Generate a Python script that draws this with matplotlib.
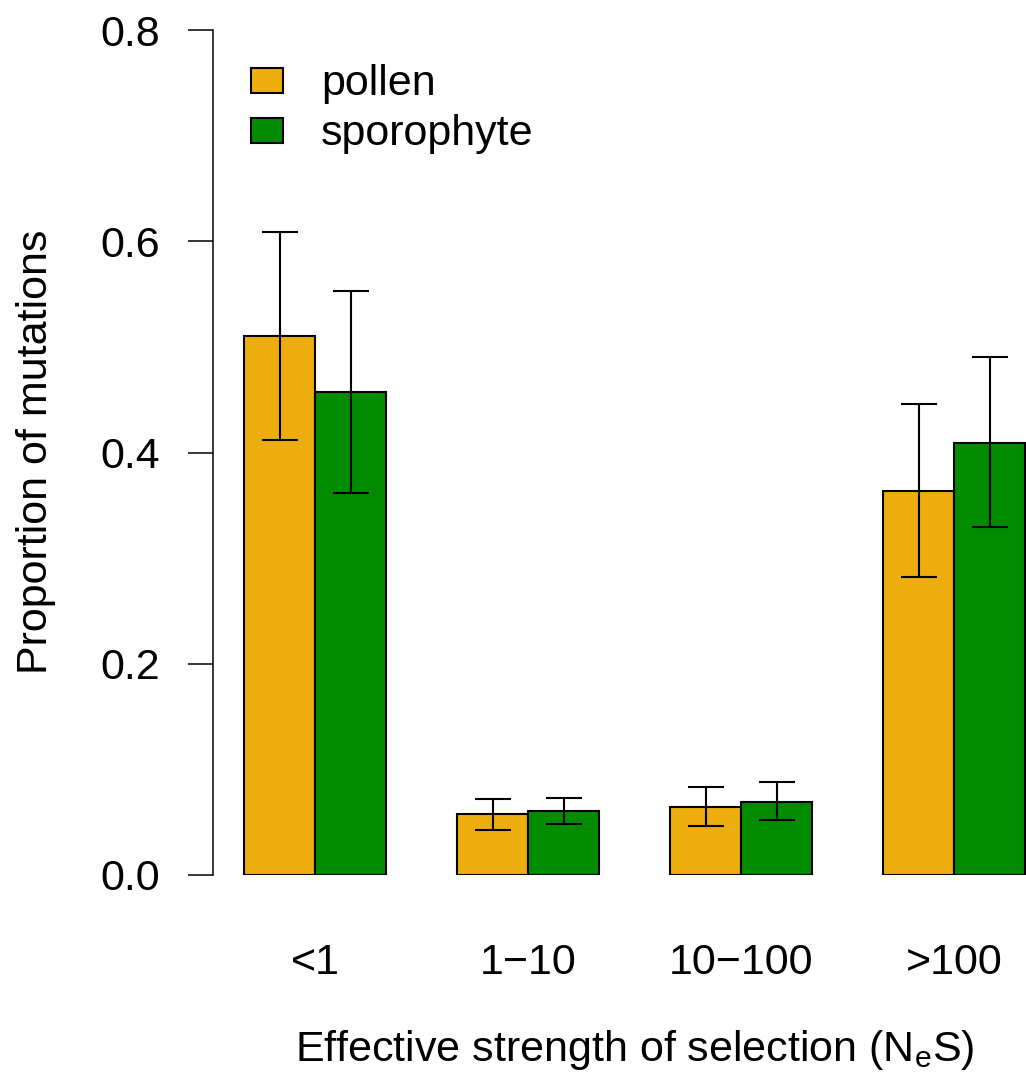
import matplotlib
matplotlib.use("Agg")
import matplotlib.pyplot as plt
from matplotlib.patches import Rectangle
import numpy as np

plt.rcParams['font.family'] = ['Liberation Sans', 'DejaVu Sans']
plt.rcParams['mathtext.fontset'] = 'custom'
plt.rcParams['mathtext.rm'] = 'Liberation Sans'
plt.rcParams['mathtext.it'] = 'Liberation Sans'

# Proportion of mutations per selection class, with confidence limits
categories = ["<1", "1\u221210", "10\u2212100", ">100"]
series = ["pollen", "sporophyte"]
colors = ["#EEAD0E", "#008B00"]

pollen = [0.510, 0.0575, 0.0647, 0.364]
pollen_lo = [0.412, 0.0423, 0.0467, 0.282]
pollen_hi = [0.609, 0.0720, 0.0830, 0.446]

sporophyte = [0.457, 0.0606, 0.0694, 0.409]
sporophyte_lo = [0.362, 0.0486, 0.0520, 0.329]
sporophyte_hi = [0.553, 0.0729, 0.0878, 0.490]

values = [pollen, sporophyte]
lows = [pollen_lo, sporophyte_lo]
highs = [pollen_hi, sporophyte_hi]

FS = 31
W, H, DPI = 1026, 1075, 100
fig = plt.figure(figsize=(W / DPI, H / DPI), dpi=DPI)
# axes box in pixels: left 213, right 1056 (runs past the canvas), y from 875 (0) to 30 (0.8)
ax = fig.add_axes([213 / W, (H - 875) / H, (1056.5 - 213) / W, (875 - 30) / H])

n = len(categories)
group_start = 1 + 3 * np.arange(n)
for j, (vals, lo, hi, col) in enumerate(zip(values, lows, highs, colors)):
    x = group_start + j + 0.5
    ax.bar(x, vals, width=1.0, color=col, edgecolor="black", linewidth=1.5, zorder=2)
    vals = np.array(vals)
    err = [vals - np.array(lo), np.array(hi) - vals]
    ax.errorbar(x, vals, yerr=err, fmt="none", ecolor="black", elinewidth=1.5,
                capsize=13, capthick=1.5, zorder=3, clip_on=False)

ax.set_xlim(0.56, 12.44)
ax.set_ylim(0, 0.8)

for s in ["top", "right", "bottom"]:
    ax.spines[s].set_visible(False)
ax.spines["left"].set_linewidth(1.1)
ax.spines["left"].set_bounds(0, 0.8)

ax.set_yticks([0.0, 0.2, 0.4, 0.6, 0.8])
ax.set_yticklabels(["0.0", "0.2", "0.4", "0.6", "0.8"])
ax.tick_params(axis="y", length=18, width=1.1, pad=20, labelsize=FS)

ax.set_xticks(group_start + 1)
ax.set_xticklabels(categories)
ax.tick_params(axis="x", length=0, pad=49, labelsize=FS)

ax.set_xlabel(r"Effective strength of selection (N$_\mathrm{e}$S)", fontsize=FS)
ax.xaxis.set_label_coords(0.5, (875 - 1050) / 845)
ax.xaxis.label.set_va("center")

fig.text(36 / W, 1 - 452 / H, "Proportion of mutations", rotation=90,
         ha="center", va="center", fontsize=FS)

# legend boxes and labels
for i, (name, col) in enumerate(zip(series, colors)):
    top = 68 + i * 50
    fig.patches.append(Rectangle((251 / W, 1 - (top + 25) / H), 32 / W, 25 / H,
                                 transform=fig.transFigure, facecolor=col,
                                 edgecolor="black", linewidth=1.5))
    fig.text(321 / W, 1 - (top + 16) / H, name, ha="left", va="center", fontsize=FS)

fig.savefig("out.png", dpi=DPI)
